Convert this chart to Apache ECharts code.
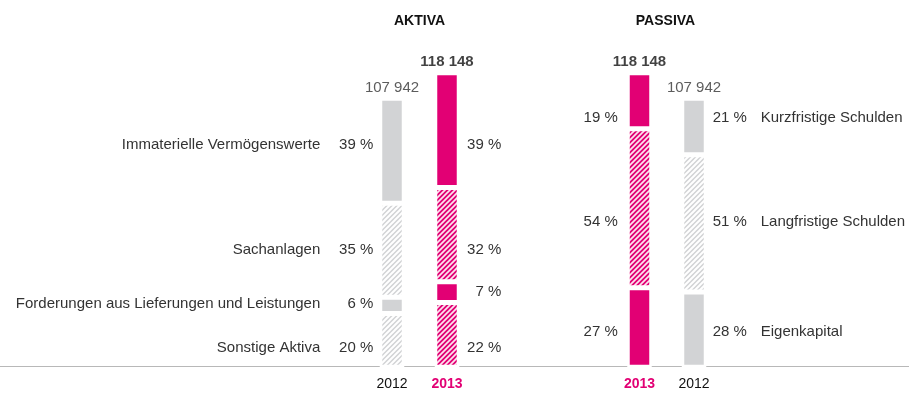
<!DOCTYPE html>
<html>
<head>
<meta charset="utf-8">
<script src="https://cdn.jsdelivr.net/npm/echarts@6/dist/echarts.min.js"></script>
<style>
  html, body { margin: 0; padding: 0; background: #fff; }
  #chart { width: 909px; height: 394px; }
</style>
</head>
<body>
<div id="chart"></div>
<script>
// Balance sheet structure (in million EUR), shares in percent of total
const aktivaYears = ['2012', '2013'];
const passivaYears = ['2013', '2012'];
const aktivaTotals = [107942, 118148];
const passivaTotals = [118148, 107942];

// bottom to top
const aktivaItems = ['Sonstige Aktiva', 'Forderungen aus Lieferungen und Leistungen', 'Sachanlagen', 'Immaterielle Vermögenswerte'];
const aktivaShare2012 = [20, 6, 35, 39];
const aktivaShare2013 = [22, 7, 32, 39];

const passivaItems = ['Eigenkapital', 'Langfristige Schulden', 'Kurzfristige Schulden'];
const passivaShare2013 = [27, 54, 19];
const passivaShare2012 = [28, 51, 21];

// ---- styling / layout ----
const MAGENTA = '#e20074';
const GRAY = '#d2d3d5';
const TEXT = '#333';
const FONT = 'Liberation Sans, Arial, sans-serif';
const aktivaHatched = [true, false, true, false];
const passivaHatched = [false, true, false];
// vertical nudges of the side labels (px)
const aktivaShiftLeft = [7.2, -1.9, -0.7, -6.2];
const aktivaShiftRight = [12.6, -0.7, 14.7, 14.3];
const passivaShiftLeft = [4.0, 13.3, 16.7];
const passivaShiftRight = [1.9, -1.8, -9.0];

const BAR_W = 24.5;   // includes the white separating border
const Y_MAX = 131300;

function hatch(bg, line, lw) {
  const p = 5;
  const c = document.createElement('canvas');
  c.width = p; c.height = p;
  const ctx = c.getContext('2d');
  ctx.fillStyle = bg;
  ctx.fillRect(0, 0, p, p);
  ctx.strokeStyle = line;
  ctx.lineWidth = lw;
  ctx.beginPath();
  ctx.moveTo(-1, p + 1); ctx.lineTo(p + 1, -1);
  ctx.moveTo(-1, 1); ctx.lineTo(1, -1);
  ctx.moveTo(p - 1, p + 1); ctx.lineTo(p + 1, p - 1);
  ctx.stroke();
  return { image: c, repeat: 'repeat' };
}
const fills = {
  gray: GRAY,
  grayHatch: hatch(GRAY, '#ffffff', 2.0),
  magenta: MAGENTA,
  magentaHatch: hatch(MAGENTA, '#fde3ef', 1.7)
};
function fillFor(year, hatched) {
  const base = year === '2013' ? 'magenta' : 'gray';
  return fills[hatched ? base + 'Hatch' : base];
}
const pctText = v => v + ' %';
const fmtTotal = v => String(v).replace(/\B(?=(\d{3})+(?!\d))/g, ' ');

const baseText = { fontFamily: FONT, fontSize: 15, color: TEXT };

// side label: share (right-aligned in its own box) plus, on the outer columns, the item name
function sideLabel(side, share, name, shift, distance) {
  const lbl = {
    show: true,
    position: side,
    distance: distance,
    offset: [0, shift],
    fontFamily: FONT
  };
  if (name && side === 'left') {
    lbl.formatter = '{cat|' + name + '}{pct|' + pctText(share) + '}';
    lbl.rich = {
      cat: Object.assign({}, baseText),
      pct: Object.assign({}, baseText, { width: 53, align: 'right' })
    };
  } else if (name && side === 'right') {
    lbl.formatter = '{pct|' + pctText(share) + '}{cat|' + name + '}';
    lbl.rich = {
      pct: Object.assign({}, baseText, { width: 48, align: 'left' }),
      cat: Object.assign({}, baseText)
    };
  } else {
    lbl.formatter = '{pct|' + pctText(share) + '}';
    lbl.rich = { pct: Object.assign({}, baseText, { width: 36, align: 'right' }) };
  }
  return lbl;
}

const series = [];

// AKTIVA: 2012 carries the item names on the left, 2013 the shares on the right
aktivaItems.forEach((name, i) => {
  const shares = [aktivaShare2012[i], aktivaShare2013[i]];
  series.push({
    type: 'bar', name: name, stack: 'aktiva',
    xAxisIndex: 0, yAxisIndex: 0,
    barWidth: BAR_W,
    data: aktivaYears.map((yr, j) => ({
      value: aktivaTotals[j] * shares[j] / 100,
      itemStyle: { color: fillFor(yr, aktivaHatched[i]), borderColor: '#fff', borderWidth: 2.5 },
      label: j === 0
        ? sideLabel('left', shares[j], name, aktivaShiftLeft[i], 6.5)
        : sideLabel('right', shares[j], null, aktivaShiftRight[i], 6)
    })),
    emphasis: { disabled: true },
    silent: true
  });
});

// PASSIVA: 2013 shares on the left, 2012 shares and item names on the right
passivaItems.forEach((name, i) => {
  const shares = [passivaShare2013[i], passivaShare2012[i]];
  series.push({
    type: 'bar', name: name, stack: 'passiva',
    xAxisIndex: 1, yAxisIndex: 1,
    barWidth: BAR_W,
    data: passivaYears.map((yr, j) => ({
      value: passivaTotals[j] * shares[j] / 100,
      itemStyle: { color: fillFor(yr, passivaHatched[i]), borderColor: '#fff', borderWidth: 2.5 },
      label: j === 0
        ? sideLabel('left', shares[j], null, passivaShiftLeft[i], 9.5)
        : sideLabel('right', shares[j], name, passivaShiftRight[i], 6.5)
    })),
    emphasis: { disabled: true },
    silent: true
  });
});

// totals above the columns
function totalSeries(years, totals, axis) {
  return {
    type: 'scatter',
    xAxisIndex: axis, yAxisIndex: axis,
    symbolSize: 0,
    silent: true,
    data: years.map((yr, j) => ({
      value: totals[j],
      label: {
        show: true, position: 'top', distance: 3,
        formatter: fmtTotal(totals[j]),
        fontFamily: FONT, fontSize: 15,
        fontWeight: yr === '2013' ? 'bold' : 'normal',
        color: yr === '2013' ? '#111' : TEXT
      }
    }))
  };
}
series.push(totalSeries(aktivaYears, aktivaTotals, 0));
series.push(totalSeries(passivaYears, passivaTotals, 1));

function yearAxis(grid, years) {
  return {
    type: 'category', gridIndex: grid, data: years,
    axisLine: { show: false }, axisTick: { show: false },
    axisLabel: {
      interval: 0,
      margin: 10,
      formatter: v => v === '2013' ? '{hi|' + v + '}' : '{lo|' + v + '}',
      rich: {
        hi: { fontFamily: FONT, fontSize: 14, fontWeight: 'bold', color: MAGENTA },
        lo: { fontFamily: FONT, fontSize: 14, color: '#111' }
      }
    }
  };
}
function valueAxis(grid) {
  return { type: 'value', gridIndex: grid, min: 0, max: Y_MAX, show: false };
}

const headerStyle = { fontFamily: FONT, fontSize: 14, fontWeight: 'bold', color: '#111' };

const option = {
  animation: false,
  backgroundColor: '#fff',
  title: [
    { text: 'AKTIVA', left: 419.5, top: 14, padding: 0, textAlign: 'center', textStyle: headerStyle },
    { text: 'PASSIVA', left: 665.5, top: 14, padding: 0, textAlign: 'center', textStyle: headerStyle }
  ],
  grid: [
    { left: 364.5, width: 110, top: 40, bottom: 26.75 },
    { left: 612.25, width: 109, top: 40, bottom: 26.75 },
    { left: 0, right: 0, top: 365, bottom: 28 }
  ],
  xAxis: [
    yearAxis(0, aktivaYears),
    yearAxis(1, passivaYears),
    {
      type: 'value', gridIndex: 2, min: 0, max: 1,
      axisLine: { show: true, lineStyle: { color: '#b8b8b8', width: 1 } },
      axisTick: { show: false }, axisLabel: { show: false }, splitLine: { show: false }
    }
  ],
  yAxis: [valueAxis(0), valueAxis(1), { type: 'value', gridIndex: 2, show: false }],
  series: series
};

const chart = echarts.init(document.getElementById('chart'), null, { renderer: 'canvas' });
chart.setOption(option);
</script>
</body>
</html>
